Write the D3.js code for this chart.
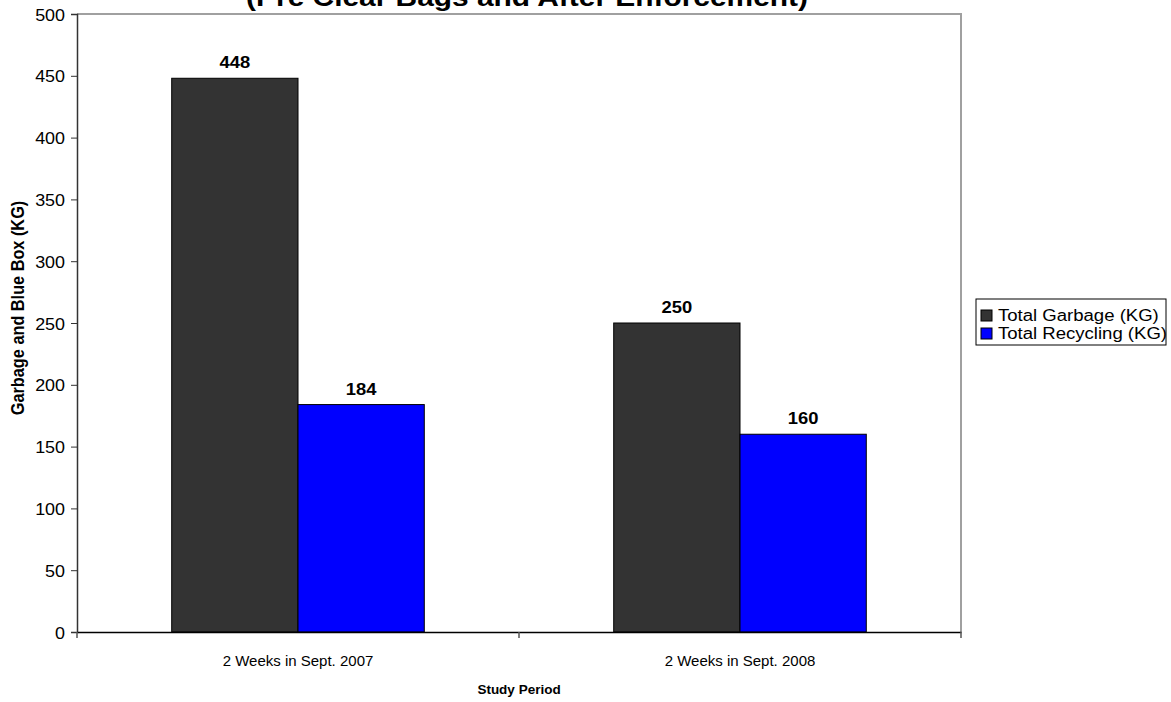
<!DOCTYPE html>
<html>
<head>
<meta charset="utf-8">
<script src="https://cdn.jsdelivr.net/npm/d3@7"></script>
<style>
  html, body { margin: 0; padding: 0; background: #fff; }
  svg { display: block; font-family: Arial, "Liberation Sans", sans-serif; }
</style>
</head>
<body>
<svg id="chart" width="1171" height="702"></svg>
<script>
// Study periods and measured weights (kg)
const categories = ["2 Weeks in Sept. 2007", "2 Weeks in Sept. 2008"];
const seriesNames = ["Total Garbage (KG)", "Total Recycling (KG)"];
const garbage = [448, 250];
const recycling = [184, 160];
const yTicks = [0, 50, 100, 150, 200, 250, 300, 350, 400, 450, 500];
const colors = ["#333333", "#0000ff"];

const FONT = "Arial, 'Liberation Sans', sans-serif";
const SX = 1.15; // glyphs are drawn slightly wide

const svg = d3.select("#chart");
const plot = { left: 77, right: 961, top: 14, bottom: 632 };

const x = d3.scaleBand().domain(categories).range([plot.left, plot.right]).paddingInner(0).paddingOuter(0);
const inner = d3.scaleBand().domain(seriesNames).range([0, x.bandwidth()]).paddingInner(0).paddingOuter(0.75);
const y = d3.scaleLinear().domain([0, 500]).range([plot.bottom, plot.top]);

// Draw a text at (px, py) with its glyphs widened by sx
function wideText(parent, px, py, str, opts = {}) {
  const sx = opts.sx || SX;
  return parent.append("text")
    .attr("transform", `translate(${px},${py}) scale(${sx},1)${opts.rotate ? ` rotate(${opts.rotate})` : ""}`)
    .attr("text-anchor", opts.anchor || "middle")
    .attr("font-size", opts.size || 16)
    .attr("font-weight", opts.bold ? "bold" : "normal")
    .attr("font-family", FONT)
    .attr("fill", "#000")
    .text(str);
}

// Plot frame (top and right edges)
svg.append("path")
  .attr("d", `M${plot.left},${plot.top}H${plot.right}V${plot.bottom}`)
  .attr("fill", "none").attr("stroke", "#a0a0a0").attr("stroke-width", 2);

// Bars
const rows = categories.map((c, i) => ({ cat: c, values: [garbage[i], recycling[i]] }));
const groups = svg.append("g").selectAll("g").data(rows).join("g")
  .attr("transform", d => `translate(${x(d.cat)},0)`);

const cells = d => d.values.map((v, k) => ({ name: seriesNames[k], v, k }));

groups.selectAll("rect").data(cells)
  .join("rect")
  .attr("x", d => inner(d.name))
  .attr("width", inner.bandwidth())
  .attr("y", d => y(d.v))
  .attr("height", d => y(0) - y(d.v))
  .attr("fill", d => colors[d.k])
  .attr("stroke", "#000").attr("stroke-width", 1);

// Value labels above bars
groups.each(function (d) {
  const g = d3.select(this);
  cells(d).forEach(c => {
    wideText(g, inner(c.name) + inner.bandwidth() / 2, y(c.v) - 10, c.v, { size: 16, bold: true });
  });
});

// Y axis
const yAxis = svg.append("g").attr("transform", `translate(${plot.left},0)`)
  .call(d3.axisLeft(y).tickValues(yTicks).tickSize(6).tickFormat(""));
yAxis.select(".domain").attr("stroke", "#333").attr("stroke-width", 1.5);
yAxis.selectAll(".tick line").attr("stroke", "#333");
yAxis.selectAll(".tick").each(function (d) {
  wideText(d3.select(this), -12, 6, d3.format("d")(d), { size: 16, anchor: "end", sx: 1.12 });
});

// X axis
const xAxis = svg.append("g").attr("transform", `translate(0,${plot.bottom})`)
  .call(d3.axisBottom(x).tickSize(0).tickFormat(""));
xAxis.select(".domain").attr("stroke", "#000").attr("stroke-width", 1.5);
xAxis.selectAll(".tick").each(function (d) {
  wideText(d3.select(this), 0, 34, d, { size: 15, sx: 1.0 });
});

// Category separators on the x axis
const sepTicks = [plot.left, ...categories.slice(1).map(c => x(c)), plot.right];
svg.append("g").selectAll("line").data(sepTicks).join("line")
  .attr("x1", d => d).attr("x2", d => d)
  .attr("y1", plot.bottom).attr("y2", plot.bottom + 6)
  .attr("stroke", "#555").attr("stroke-width", 1.5);

// Title (second line)
wideText(svg, 527, 6, "(Pre Clear Bags and After Enforcement)", { size: 26, bold: true });

// Axis titles
wideText(svg, (plot.left + plot.right) / 2, 694, "Study Period", { size: 13.5, bold: true, sx: 1.0 });
wideText(svg, 24, 308, "Garbage and Blue Box (KG)", { size: 16.3, bold: true, rotate: -90 });

// Legend
const legend = svg.append("g").attr("transform", "translate(976,299)");
legend.append("rect")
  .attr("width", 190).attr("height", 46)
  .attr("fill", "#fff").attr("stroke", "#000").attr("stroke-width", 1);
const li = legend.selectAll("g").data(seriesNames).join("g")
  .attr("transform", (d, i) => `translate(5,${11 + i * 18})`);
li.append("rect").attr("width", 11).attr("height", 11)
  .attr("fill", (d, i) => colors[i]).attr("stroke", "#000").attr("stroke-width", 1);
li.each(function (d) {
  wideText(d3.select(this), 17, 11, d, { size: 16, anchor: "start", sx: 1.16 });
});
</script>
</body>
</html>
